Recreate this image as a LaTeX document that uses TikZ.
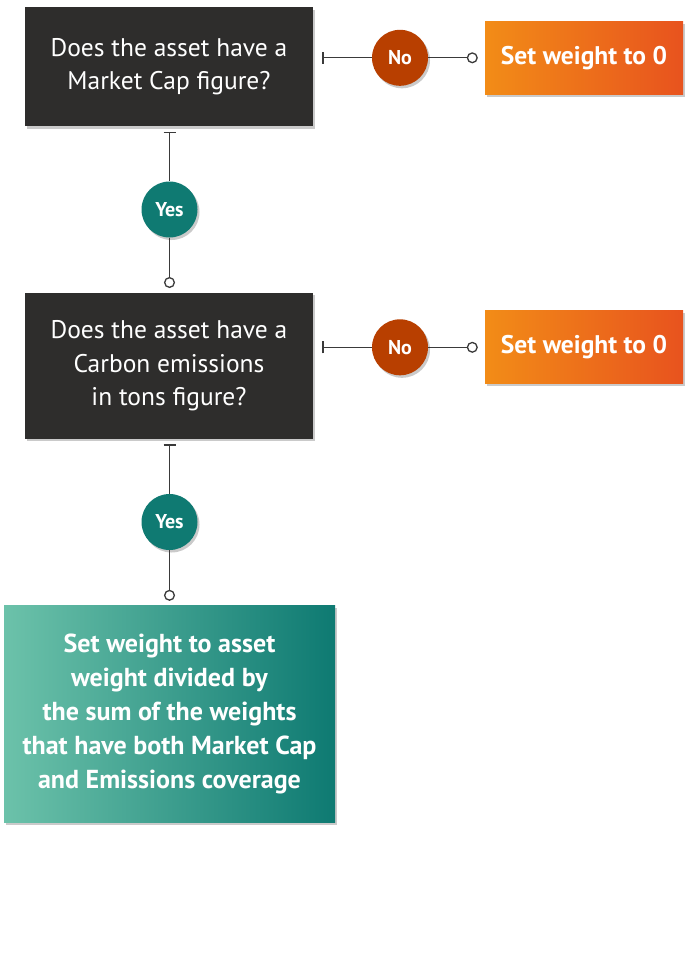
\documentclass[tikz,border=0pt]{standalone}
\usepackage{fontspec}
\setmainfont{PT Sans}
\usetikzlibrary{arrows.meta,shadows}
\definecolor{darkbox}{HTML}{2E2D2C}
\definecolor{lineg}{HTML}{3A3A3A}
\definecolor{nored}{HTML}{B83F00}
\definecolor{tealc}{HTML}{0F7A72}
\definecolor{orangeL}{HTML}{F28C17}
\definecolor{orangeM}{HTML}{EE7A1A}
\definecolor{orangeR}{HTML}{E8531E}
\definecolor{greenL}{HTML}{6CC2AA}
\definecolor{greenM}{HTML}{2A8E84}
\definecolor{greenR}{HTML}{0E7A72}
\definecolor{shadowc}{HTML}{BDBDBD}
\tikzset{
  shad/.style={drop shadow={shadow xshift=2pt,shadow yshift=-2.5pt,fill=shadowc,opacity=0.8}},
  question/.style={shad,fill=darkbox,text=white,minimum width=288pt,inner sep=0pt,align=center,
    font=\fontsize{25.5}{33.5}\selectfont},
  result/.style={shad,left color=orangeL,middle color=orangeM,right color=orangeR,text=white,minimum width=198pt,
    minimum height=73pt,inner sep=0pt,font=\fontsize{25.5}{28}\selectfont\bfseries},
  final/.style={shad,left color=greenL,middle color=greenM,right color=greenR,text=white,minimum width=331pt,
    minimum height=217pt,inner sep=0pt,align=center,font=\fontsize{26}{34}\selectfont\bfseries},
  nocirc/.style={shad,circle,fill=nored,text=white,minimum size=56pt,inner sep=0pt,
    font=\fontsize{20}{22}\selectfont\bfseries},
  yescirc/.style={shad,circle,fill=tealc,text=white,minimum size=56pt,inner sep=0pt,
    font=\fontsize{20}{22}\selectfont\bfseries},
  conn/.style={draw=lineg,line width=1.3pt},
  startbar/.style={{Bar[width=12pt,line width=1.3pt]}-},
  endring/.style={-{Circle[open,length=11pt,width=11pt,line width=1.3pt]}},
}
\begin{document}
\begin{tikzpicture}[x=1pt,y=-1pt]
\useasboundingbox[fill=white] (0,0) rectangle (692,970);
\node[question,minimum height=118.7pt] (q1) at (169,66.7) {Does the asset have a\\Market Cap figure?};
\node[question,minimum height=146pt] (q2) at (169,365.7) {Does the asset have a\\Carbon emissions\\in tons figure?};
\node[nocirc] (no1) at (400,57.8) {No};
\node[nocirc] (no2) at (400,347.3) {No};
\node[result] (r1) at (584,57.8) {Set weight to 0};
\node[result] (r2) at (584,347.3) {Set weight to 0};
\node[yescirc] (y1) at (169.5,209.5) {Yes};
\node[yescirc] (y2) at (169.5,522) {Yes};
\node[final] (f) at (169.5,713.5) {Set weight to asset\\weight divided by\\the sum of the weights\\that have both Market Cap\\and Emissions coverage};
% connectors
\draw[conn,startbar,shorten <=9pt] (q1.east |- no1) -- (no1.west);
\draw[conn,endring,shorten >=7pt] (no1.east) -- (r1.west);
\draw[conn,startbar,shorten <=9pt] (q2.east |- no2) -- (no2.west);
\draw[conn,endring,shorten >=7pt] (no2.east) -- (r2.west);
\draw[conn,startbar,shorten <=5.5pt] (q1.south -| y1) -- (y1.north);
\draw[conn,endring,shorten >=4.5pt] (y1.south) -- (q2.north -| y1);
\draw[conn,startbar,shorten <=5.5pt] (q2.south -| y2) -- (y2.north);
\draw[conn,endring,shorten >=4pt] (y2.south) -- (f.north -| y2);
\end{tikzpicture}
\end{document}
